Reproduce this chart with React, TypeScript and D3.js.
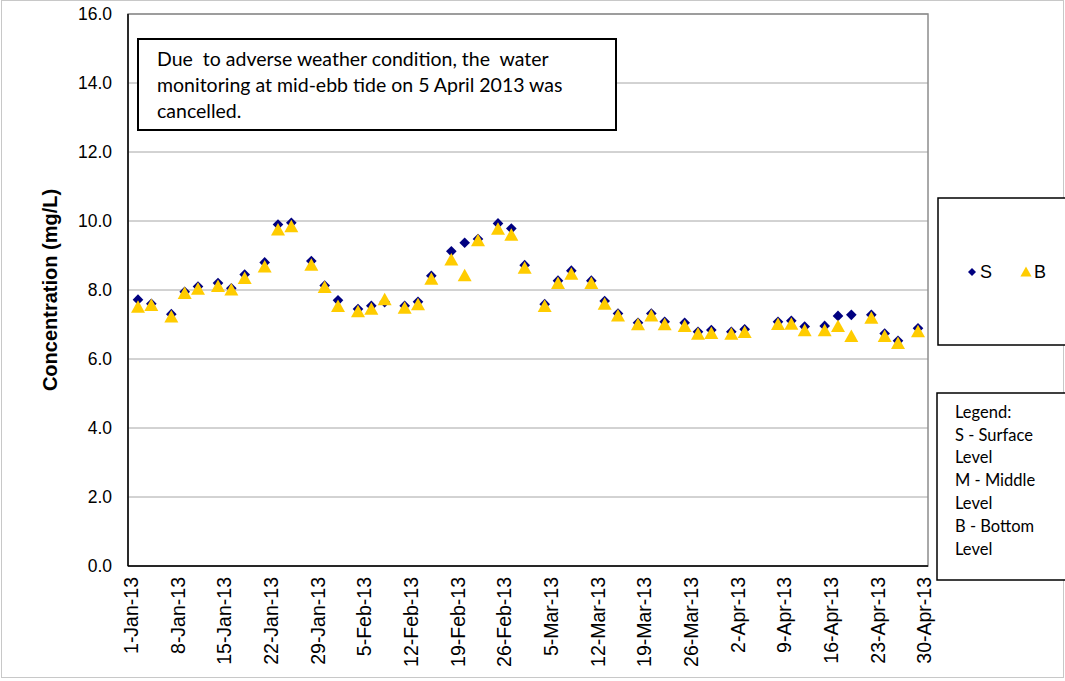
import React from "react";
import * as d3 from "d3";

const dates: string[] = [
  "2013-01-02","2013-01-04","2013-01-07","2013-01-09","2013-01-11","2013-01-14","2013-01-16","2013-01-18","2013-01-21","2013-01-23","2013-01-25","2013-01-28","2013-01-30",
  "2013-02-01","2013-02-04","2013-02-06","2013-02-08","2013-02-11","2013-02-13","2013-02-15","2013-02-18","2013-02-20","2013-02-22","2013-02-25","2013-02-27",
  "2013-03-01","2013-03-04","2013-03-06","2013-03-08","2013-03-11","2013-03-13","2013-03-15","2013-03-18","2013-03-20","2013-03-22","2013-03-25","2013-03-27","2013-03-29",
  "2013-04-01","2013-04-03","2013-04-08","2013-04-10","2013-04-12","2013-04-15","2013-04-17","2013-04-19","2013-04-22","2013-04-24","2013-04-26","2013-04-29",
];

const surface: number[] = [
  7.72, 7.6, 7.3, 7.95, 8.1, 8.2, 8.05, 8.45, 8.8, 9.9, 9.95, 8.84, 8.13,
  7.7, 7.45, 7.54, 7.65, 7.54, 7.66, 8.41, 9.12, 9.37, 9.48, 9.93, 9.78,
  8.72, 7.59, 8.27, 8.56, 8.27, 7.68, 7.32, 7.05, 7.32, 7.08, 7.05, 6.79, 6.84,
  6.79, 6.86, 7.08, 7.11, 6.94, 6.96, 7.25, 7.28, 7.28, 6.74, 6.53, 6.89,
];

const bottom: number[] = [
  7.5, 7.55, 7.22, 7.9, 8.02, 8.1, 8.0, 8.33, 8.67, 9.74, 9.83, 8.72, 8.07,
  7.52, 7.37, 7.44, 7.72, 7.47, 7.57, 8.31, 8.87, 8.41, 9.43, 9.76, 9.59,
  8.63, 7.52, 8.19, 8.46, 8.19, 7.59, 7.25, 6.99, 7.25, 6.99, 6.94, 6.72, 6.74,
  6.72, 6.77, 7.0, 7.01, 6.82, 6.82, 6.94, 6.65, 7.18, 6.65, 6.45, 6.79,
];

const yTicks: number[] = [0, 2, 4, 6, 8, 10, 12, 14, 16];
const annotationLines: string[] = [
  "Due  to adverse weather condition, the  water",
  "monitoring at mid-ebb tide on 5 April 2013 was",
  "cancelled.",
];
const legendNoteLines: string[] = [
  "Legend:",
  "S - Surface",
  "Level",
  "M - Middle",
  "Level",
  "B - Bottom",
  "Level",
];

const W = 1065;
const H = 681;
const plot = { left: 128, right: 928, top: 14, bottom: 566 };

const parse = d3.utcParse("%Y-%m-%d");
const fmt = d3.utcFormat("%-d-%b-%y");
const startDay = parse("2013-01-01")!;
const endDay = parse("2013-04-30")!;
const halfDay = 12 * 3600 * 1000;

const x = d3
  .scaleUtc()
  .domain([new Date(startDay.getTime() - halfDay), new Date(endDay.getTime() + halfDay)])
  .range([plot.left, plot.right]);
const y = d3.scaleLinear().domain([0, 16]).range([plot.bottom, plot.top]);

const xTicks = d3.utcDay.range(startDay, new Date(endDay.getTime() + halfDay), 7);

const diamond = d3.symbol().type(d3.symbolDiamond2).size(72)();
const triangle = "M0,-7L7,5.5L-7,5.5Z";

const NAVY = "#000080";
const GOLD = "#FFCC00";
const SANS = "'Liberation Sans', Arial, sans-serif";
const CAL = "Lato, 'Open Sans', sans-serif";

export default function App() {
  return (
    <svg
      width={W}
      height={H}
      style={{ position: "absolute", left: 0, top: 0, background: "#fff" }}
    >
      <rect x={1.5} y={0.5} width={1062} height={677} fill="#fff" stroke="#c8c8c8" strokeWidth={1} />
      {yTicks.map((t) => (
        <line
          key={"g" + t}
          x1={plot.left}
          x2={plot.right}
          y1={y(t)}
          y2={y(t)}
          stroke="#a6a6a6"
          strokeWidth={1}
        />
      ))}
      <rect
        x={plot.left}
        y={plot.top}
        width={plot.right - plot.left}
        height={plot.bottom - plot.top}
        fill="none"
        stroke="#8c8c8c"
        strokeWidth={1.5}
      />
      <line x1={plot.left} x2={plot.left} y1={plot.top} y2={plot.bottom} stroke="#000" strokeWidth={1.5} />
      <line x1={plot.left} x2={plot.right} y1={plot.bottom} y2={plot.bottom} stroke="#000" strokeWidth={1.5} />

      {yTicks.map((t) => (
        <text
          key={"yl" + t}
          x={112}
          y={y(t)}
          dy="0.35em"
          textAnchor="end"
          fontFamily={SANS}
          fontSize={17.5}
          fill="#000"
        >
          {t.toFixed(1)}
        </text>
      ))}
      <text
        transform={`translate(57,${(plot.top + plot.bottom) / 2}) rotate(-90)`}
        textAnchor="middle"
        fontFamily={SANS}
        fontSize={20}
        fontWeight="bold"
        fill="#000"
      >
        Concentration (mg/L)
      </text>

      {xTicks.map((d) => (
        <text
          key={"xl" + d.getTime()}
          transform={`translate(${x(d)},${plot.bottom + 11}) rotate(-90)`}
          textAnchor="end"
          dy="0.35em"
          fontFamily={SANS}
          fontSize={19.5}
          fill="#000"
        >
          {fmt(d)}
        </text>
      ))}

      {dates.map((ds, i) => (
        <path
          key={"s" + i}
          d={diamond}
          transform={`translate(${x(parse(ds)!)},${y(surface[i])})`}
          fill={NAVY}
        />
      ))}
      {dates.map((ds, i) => (
        <path
          key={"b" + i}
          d={triangle}
          transform={`translate(${x(parse(ds)!)},${y(bottom[i])})`}
          fill={GOLD}
        />
      ))}

      <rect x={138} y={39} width={478} height={91} fill="#fff" stroke="#000" strokeWidth={2} />
      {annotationLines.map((l, i) => (
        <text
          key={"a" + i}
          x={157}
          y={66 + i * 26}
          fontFamily={CAL}
          fontSize={19.5}
          fill="#000"
          style={{ whiteSpace: "pre" }}
        >
          {l}
        </text>
      ))}

      <rect x={938} y={198} width={140} height={147} fill="#fff" stroke="#000" strokeWidth={1.5} />
      <path d={diamond} transform="translate(972,272) scale(0.75)" fill={NAVY} />
      <text x={980} y={272} dy="0.35em" fontFamily={SANS} fontSize={18} fill="#000">S</text>
      <path d={triangle} transform="translate(1026,272) scale(0.8)" fill={GOLD} />
      <text x={1034} y={272} dy="0.35em" fontFamily={SANS} fontSize={18} fill="#000">B</text>

      <rect x={937} y={393} width={140} height={187} fill="#fff" stroke="#000" strokeWidth={1.5} />
      {legendNoteLines.map((l, i) => (
        <text key={"n" + i} x={955} y={412 + i * 22.8} dy="0.35em" fontFamily={CAL} fontSize={16.5} fill="#000">
          {l}
        </text>
      ))}
    </svg>
  );
}
